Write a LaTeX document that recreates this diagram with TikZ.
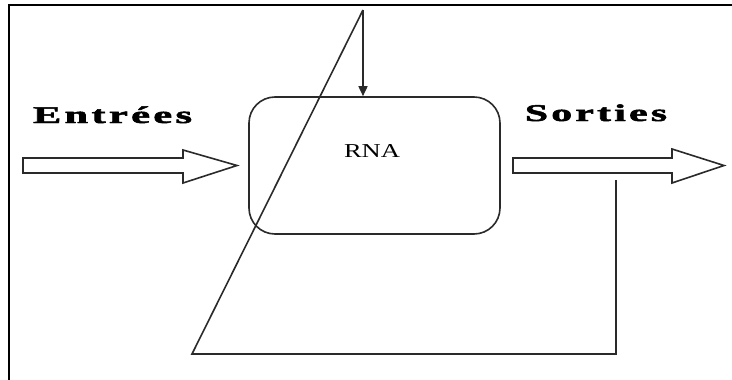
\documentclass[tikz,border=0pt]{standalone}
\usepackage{fontspec}
\setmainfont{Liberation Serif}
\usetikzlibrary{arrows.meta}
\definecolor{ink}{HTML}{2A2A2A}
\tikzset{
  wire/.style={draw=ink, line width=1.6pt},
  hollow/.style={draw=ink, line width=1.6pt, fill=white, line join=miter},
  biglabel/.style={inner sep=0pt, anchor=base, font=\fontsize{24}{26}\selectfont\bfseries},
  rnabox/.style={draw=ink, line width=1.6pt, rounded corners=26pt, inner sep=0pt,
                 minimum width=251pt, minimum height=137pt},
}
\begin{document}
\begin{tikzpicture}[x=1pt,y=-1pt]
  \useasboundingbox (0,0) rectangle (732,380);
  % outer frame (only top and left edges are visible)
  \draw[line width=2.4pt, line join=miter] (9,381) -- (9,5) -- (733,5);

  % network block
  \node[rnabox] (rna) at (374.5,165.5) {};
  \node[inner sep=0pt, anchor=base, font=\fontsize{19.7}{22}\selectfont] (rnatxt) at (372,157)
    {\resizebox{56pt}{\height}{RNA}};

  % labels
  \node[biglabel] (inlab) at (112.5,123)
    {\resizebox{159pt}{\height}{\addfontfeature{LetterSpace=8,FakeBold=2}Entr\'ees}};
  \node[biglabel] (outlab) at (596,121)
    {\resizebox{142pt}{\height}{\addfontfeature{LetterSpace=8,FakeBold=2}Sorties}};

  % hollow input / output arrows
  \draw[hollow] (23,158) -- (183,158) -- (183,150) -- (237,165.5) -- (183,183)
     -- (183,173) -- (23,173) -- cycle;
  \draw[hollow] (513,158) -- (672,158) -- (672,149) -- (724,165.5) -- (672,183)
     -- (672,173) -- (513,173) -- cycle;

  % feedback loop
  \coordinate (tap) at (616,180);
  \coordinate (bl) at (192,354);
  \coordinate (apex) at (363,10);
  \draw[wire, line join=miter] (tap) -- (tap |- bl) -- (bl) -- (apex);
  \draw[wire, -{Triangle[length=10pt,width=9pt]}] (apex) -- (apex |- rna.north);
\end{tikzpicture}
\end{document}
